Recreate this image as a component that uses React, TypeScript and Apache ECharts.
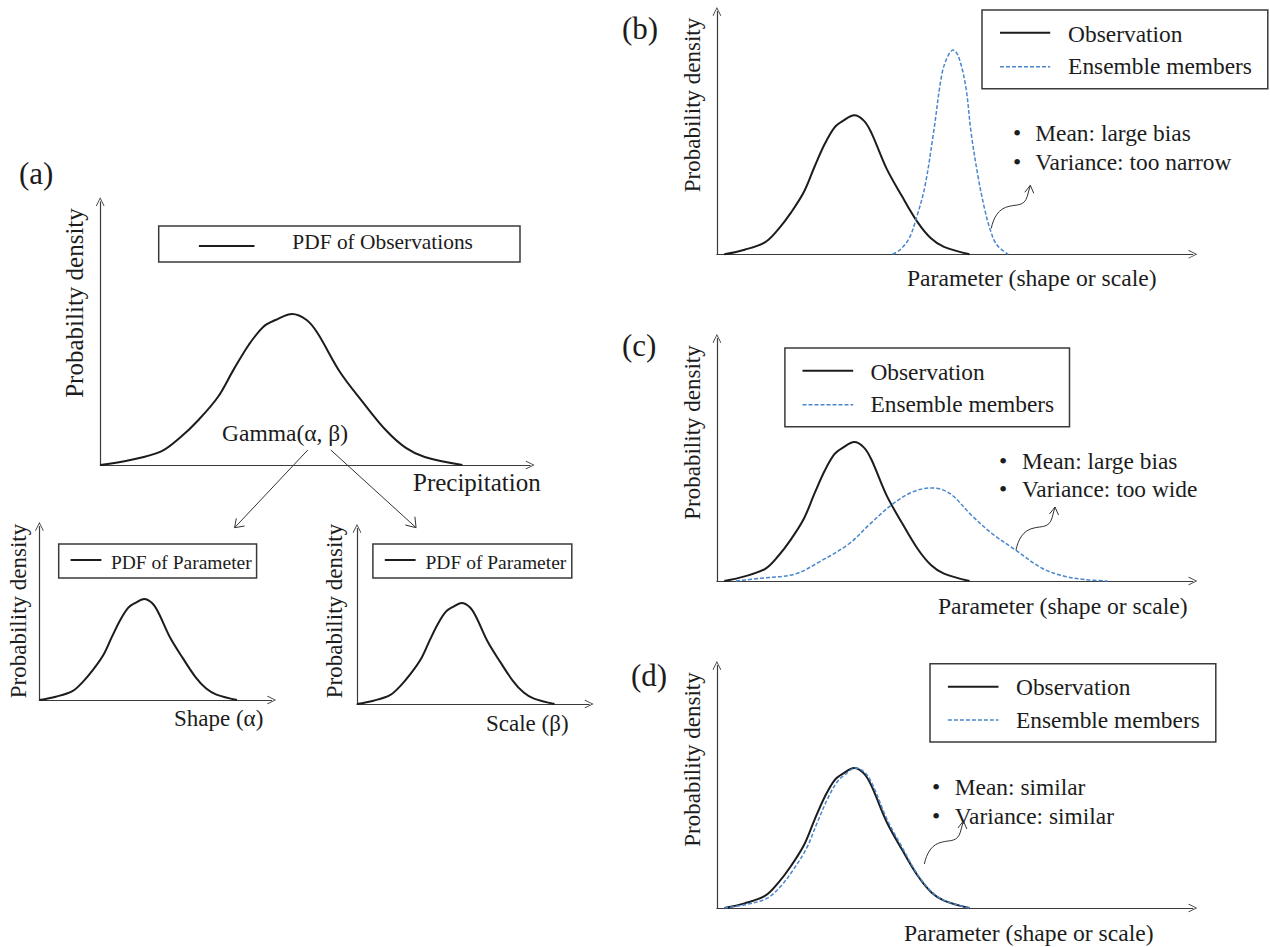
import React, { useEffect, useRef } from 'react';
import * as echarts from 'echarts';

// x runs 0-100 across the observed curve, density 0-100 up to its peak
const obsX = [0, 8.3, 16.7, 22, 27.2, 32.5, 36.8, 41, 45, 48.4, 53, 57, 60, 66.2, 72.5, 78.9, 84.4, 89.6, 100];
const obsY = [0, 3.3, 8.8, 18, 30, 45, 63, 79.5, 91.4, 96, 100, 96, 87.4, 61.6, 41.7, 23, 11.3, 5.3, 0];

const narrowX = [68.6, 71.6, 75.4, 78.5, 81.8, 85.3, 88.8, 91.3, 93.4, 95.6, 98.5, 100.7, 103.5, 106, 108.5, 111.2, 115.8];
const narrowY = [0, 3.1, 11.5, 27, 48.6, 87, 130, 143, 147, 142, 120.6, 87, 56, 34, 17.5, 6.7, 0];

const wideX = [4.8, 15, 28.8, 39, 51, 59.7, 68.2, 76.7, 84.5, 92, 100.7, 109.3, 118.8, 129.8, 138.4, 147, 156.3];
const wideY = [0, 2, 5, 14, 27, 41.5, 54.7, 64, 67, 63, 47.5, 34, 22.3, 9, 3.6, 1, 0];

const similarX = [0, 9, 17.5, 23, 28.2, 33.5, 37.8, 42, 46, 49.4, 53.5, 57.5, 60.5, 66.6, 72.8, 79, 84.6, 89.8, 100];
const similarY = [0, 2.5, 7, 15.5, 27.5, 42.5, 60.5, 77.5, 90, 95.5, 100, 96.5, 88, 62.5, 42.5, 23.5, 11.5, 5.3, 0];

const pairs = (xs: number[], ys: number[]) => xs.map((x, i) => [x, ys[i]]);

const observation = pairs(obsX, obsY);
const SERIF = '"Liberation Serif", serif';
const INK = '#1c1c1c';
const BLUE = '#4a86cc';
const OPEN_ARROW = 'path://M0,10 L5,0 L10,10 L9.2,10.5 L5,2 L0.8,10.5 Z';

const panels = [
  { left: 100.2, top: 201.8, width: 429.9, height: 263.2, xMin: 0, xMax: 118.7, yMax: 174.3, ensemble: null },
  { left: 39.4, top: 526.5, width: 232.2, height: 173.5, xMin: 0, xMax: 117.5, yMax: 171.8, ensemble: null },
  { left: 357, top: 528.5, width: 232.1, height: 175.5, xMin: 0, xMax: 117.5, yMax: 173.8, ensemble: null },
  { left: 716.9, top: 11.5, width: 475.9, height: 242.8, xMin: -3.02, xMax: 191.1, yMax: 174.7, ensemble: pairs(narrowX, narrowY) },
  { left: 716.9, top: 338.5, width: 475.9, height: 242.5, xMin: -3.02, xMax: 191.1, yMax: 174.5, ensemble: pairs(wideX, wideY) },
  { left: 716.9, top: 665.5, width: 475.9, height: 242.5, xMin: -3.02, xMax: 191.1, yMax: 173.2, ensemble: pairs(similarX, similarY) },
];

const panelLetters = [
  { text: '(a)', x: 18.9, y: 173 },
  { text: '(b)', x: 621.9, y: 28 },
  { text: '(c)', x: 621.9, y: 345 },
  { text: '(d)', x: 630.9, y: 675 },
];

const densityLabels = [
  { x: 74.6, y: 303, size: 25 },
  { x: 18.4, y: 611, size: 23 },
  { x: 334.6, y: 611, size: 23 },
  { x: 692.5, y: 105, size: 23 },
  { x: 692.5, y: 432.5, size: 23 },
  { x: 692.5, y: 759.5, size: 23 },
];

const plainLabels = [
  { text: 'Gamma(α, β)', x: 222, y: 433, size: 23.5 },
  { text: 'Precipitation', x: 413, y: 482, size: 25 },
  { text: 'Shape (α)', x: 174, y: 718, size: 23 },
  { text: 'Scale (β)', x: 486, y: 723, size: 23 },
  { text: 'Parameter (shape or scale)', x: 907, y: 278, size: 23.6 },
  { text: 'Parameter (shape or scale)', x: 938, y: 606, size: 23.6 },
  { text: 'Parameter (shape or scale)', x: 904, y: 933, size: 23.6 },
];

const singleLegends = [
  { box: [158.7, 226, 361.3, 36], line: [198.9, 254.5, 246], label: 'PDF of Observations', textX: 292.3, textY: 242, size: 21.4 },
  { box: [58.7, 544, 197.9, 34], line: [70.6, 101.4, 560], label: 'PDF of Parameter', textX: 110.9, textY: 562, size: 19.5 },
  { box: [372.9, 544, 198.9, 34], line: [384.8, 415.6, 560], label: 'PDF of Parameter', textX: 425.5, textY: 562, size: 19.5 },
];

const doubleLegends = [
  { box: [982, 10, 285.8, 78.7], lineX: [1000, 1050.2], lineY: [32.7, 66.7], textX: 1068.1, textY: [34, 66] },
  { box: [784.9, 348, 284.6, 78.7], lineX: [802.5, 853.2], lineY: [370.7, 404.7], textX: 870.4, textY: [372, 404] },
  { box: [930, 663.7, 285.8, 78.3], lineX: [947.9, 998.5], lineY: [686.7, 720], textX: 1016, textY: [687, 720] },
];

const notes = [
  { lines: ['Mean: large bias', 'Variance: too narrow'], dotX: 1017, textX: 1035.3, y: [133, 162] },
  { lines: ['Mean: large bias', 'Variance: too wide'], dotX: 1003, textX: 1022, y: [460.7, 489] },
  { lines: ['Mean: similar', 'Variance: similar'], dotX: 936, textX: 954.8, y: [787, 816] },
];

const squiggleStarts = [
  [991.3, 228.3],
  [1016, 550],
  [924.4, 864],
];

echarts.graphic.registerShape(
  'squiggle',
  echarts.graphic.extendPath('M0,0 C2,-10 7,-20 18,-22 C26,-24 33,-22 36,-32 L39,-43 M33.5,-36 L39,-43 L42.5,-35', {})
);

const label = (text: string, x: number, y: number, size: number, align = 'left', rotation = 0) => ({
  type: 'text',
  x,
  y,
  rotation,
  silent: true,
  style: { text, fill: INK, fontSize: size, fontFamily: SERIF, textAlign: align, textVerticalAlign: 'middle' },
});

const rule = (x1: number, y1: number, x2: number, y2: number, stroke = INK, lineWidth = 2, lineDash?: number[]) => ({
  type: 'line',
  silent: true,
  shape: { x1, y1, x2, y2 },
  style: { stroke, lineWidth, lineDash },
});

const frame = (box: number[]) => ({
  type: 'rect',
  silent: true,
  shape: { x: box[0], y: box[1], width: box[2], height: box[3] },
  style: { fill: '#fff', stroke: '#3a3a3a', lineWidth: 1.5 },
});

const App: React.FC = () => {
  const chartRef = useRef<HTMLDivElement>(null);

  useEffect(() => {
    if (!chartRef.current) return;
    const chart = echarts.init(chartRef.current, undefined, { renderer: 'svg' });

    const series: any[] = [];
    panels.forEach((p, i) => {
      series.push({
        type: 'line',
        xAxisIndex: i,
        yAxisIndex: i,
        data: observation,
        smooth: 0.35,
        showSymbol: false,
        clip: false,
        lineStyle: { color: INK, width: 2 },
      });
      if (p.ensemble) {
        series.push({
          type: 'line',
          xAxisIndex: i,
          yAxisIndex: i,
          data: p.ensemble,
          smooth: 0.35,
          showSymbol: false,
          clip: false,
          lineStyle: { color: BLUE, width: 1.5, type: [4, 2] },
        });
      }
    });

    const axisBase = {
      type: 'value',
      axisTick: { show: false },
      axisLabel: { show: false },
      splitLine: { show: false },
      axisLine: {
        show: true,
        onZero: false,
        symbol: ['none', OPEN_ARROW],
        symbolSize: [11, 9],
        lineStyle: { color: '#3a3a3a', width: 1.2 },
      },
    };

    const graphics: any[] = [];
    singleLegends.forEach((l) => {
      graphics.push(frame(l.box));
      graphics.push(rule(l.line[0], l.line[2], l.line[1], l.line[2]));
      graphics.push(label(l.label, l.textX, l.textY, l.size));
    });
    doubleLegends.forEach((l) => {
      graphics.push(frame(l.box));
      graphics.push(rule(l.lineX[0], l.lineY[0], l.lineX[1], l.lineY[0]));
      graphics.push(rule(l.lineX[0], l.lineY[1], l.lineX[1], l.lineY[1], BLUE, 1.5, [4, 2]));
      graphics.push(label('Observation', l.textX, l.textY[0], 23.4));
      graphics.push(label('Ensemble members', l.textX, l.textY[1], 23.4));
    });
    notes.forEach((n) => {
      n.lines.forEach((line, i) => {
        graphics.push(label('•', n.dotX, n.y[i], 23.5, 'center'));
        graphics.push(label(line, n.textX, n.y[i], 23.4));
      });
    });
    panelLetters.forEach((l) => graphics.push(label(l.text, l.x, l.y, 31)));
    densityLabels.forEach((l) => graphics.push(label('Probability density', l.x, l.y, l.size, 'center', Math.PI / 2)));
    plainLabels.forEach((l) => graphics.push(label(l.text, l.x, l.y, l.size)));

    // arrows from Gamma(a, b) down to the two parameter panels
    graphics.push(rule(307.8, 450, 234.6, 527.7, '#333', 1));
    graphics.push({
      type: 'polyline',
      silent: true,
      shape: { points: [[244.6, 526], [234.6, 527.7], [236.3, 518.3]] },
      style: { stroke: '#333', lineWidth: 1, fill: 'none' },
    });
    graphics.push(rule(330.8, 450, 416.1, 527.7, '#333', 1));
    graphics.push({
      type: 'polyline',
      silent: true,
      shape: { points: [[405.4, 525], [416.1, 527.7], [414.9, 516.7]] },
      style: { stroke: '#333', lineWidth: 1, fill: 'none' },
    });
    squiggleStarts.forEach(([x, y]) => {
      graphics.push({
        type: 'squiggle',
        x,
        y,
        silent: true,
        style: { fill: 'none', stroke: '#333', lineWidth: 1 },
      });
    });

    chart.setOption({
      animation: false,
      backgroundColor: '#fff',
      grid: panels.map((p) => ({ left: p.left, top: p.top, width: p.width, height: p.height })),
      xAxis: panels.map((p, i) => ({ ...axisBase, gridIndex: i, min: p.xMin, max: p.xMax })),
      yAxis: panels.map((p, i) => ({ ...axisBase, gridIndex: i, min: 0, max: p.yMax })),
      series,
      graphic: graphics,
    });

    return () => {
      chart.dispose();
    };
  }, []);

  return <div ref={chartRef} style={{ position: 'absolute', left: 0, top: 0, width: 1270, height: 947 }} />;
};

export default App;
